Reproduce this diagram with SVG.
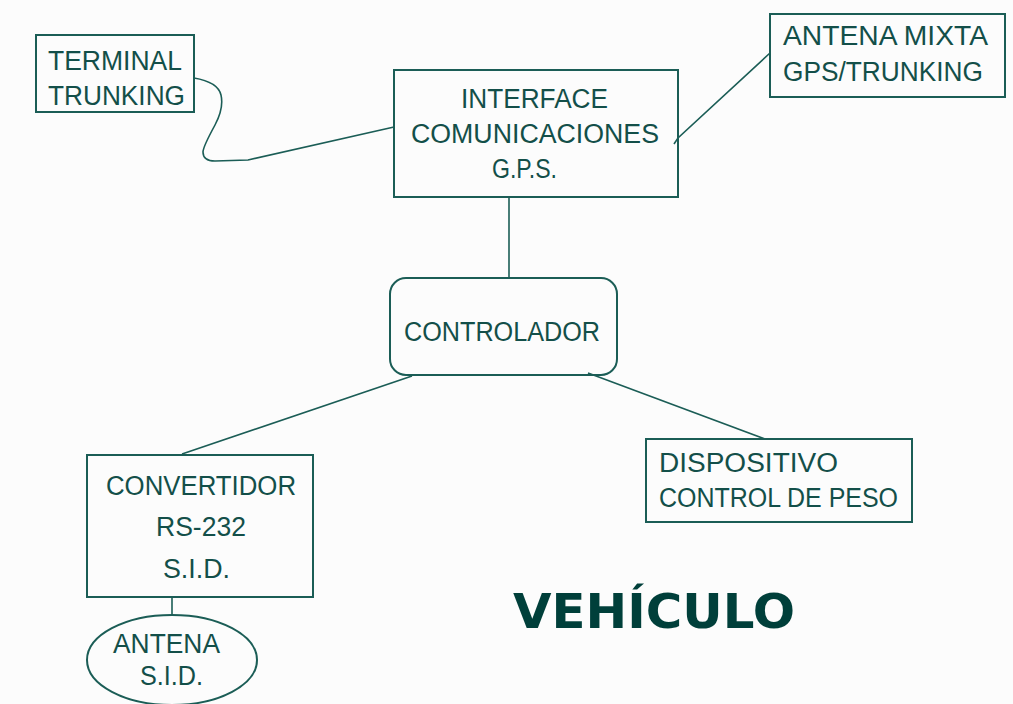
<svg xmlns="http://www.w3.org/2000/svg" width="1013" height="704" viewBox="0 0 1013 704">
<style>
.box{fill:none;stroke:#1b5d56;stroke-width:2}
.con{fill:none;stroke:#1b5d56;stroke-width:1.6}
.t{font-family:"Liberation Sans","DejaVu Sans",sans-serif;font-size:27px;fill:#134f49}
.big{font-family:"DejaVu Sans","Liberation Sans",sans-serif;font-weight:bold;font-size:48px;fill:#003f3a}
</style>
<rect x="0" y="0" width="1013" height="704" fill="#fcfcfc"/>
<g id="connectors">
<path class="con" d="M194,78 Q218,82 221,95 Q224,108 215,125 Q203,147 203,152 Q203,161 215,161 L248,160 L394,127"/>
<path class="con" d="M770,53 L678,138 L674,144"/>
<path class="con" d="M509,197 L509,278"/>
<path class="con" d="M412,376 L182,454"/>
<path class="con" d="M588,373 L765,439"/>
<path class="con" d="M172,597 L172,615"/>
</g>
<g id="terminal">
<rect class="box" x="36" y="35" width="158" height="77"/>
<text class="t" x="48" y="70" textLength="134" lengthAdjust="spacingAndGlyphs">TERMINAL</text>
<text class="t" x="48" y="105" textLength="137" lengthAdjust="spacingAndGlyphs">TRUNKING</text>
</g>
<g id="interface">
<rect class="box" x="394" y="70" width="284" height="127"/>
<text class="t" x="461" y="108" textLength="147" lengthAdjust="spacingAndGlyphs">INTERFACE</text>
<text class="t" x="411" y="143" textLength="248" lengthAdjust="spacingAndGlyphs">COMUNICACIONES</text>
<text class="t" x="492" y="178" textLength="65" lengthAdjust="spacingAndGlyphs">G.P.S.</text>
</g>
<g id="antena-mixta">
<rect class="box" x="770" y="14" width="235" height="83"/>
<text class="t" x="783" y="45" textLength="205" lengthAdjust="spacingAndGlyphs">ANTENA MIXTA</text>
<text class="t" x="783" y="81" textLength="200" lengthAdjust="spacingAndGlyphs">GPS/TRUNKING</text>
</g>
<g id="controlador">
<rect class="box" x="390" y="278" width="227" height="97" rx="16" ry="16"/>
<text class="t" x="404" y="341" textLength="196" lengthAdjust="spacingAndGlyphs">CONTROLADOR</text>
</g>
<g id="convertidor">
<rect class="box" x="87" y="455" width="226" height="142"/>
<text class="t" x="106" y="495" textLength="190" lengthAdjust="spacingAndGlyphs">CONVERTIDOR</text>
<text class="t" x="156" y="536" textLength="90" lengthAdjust="spacingAndGlyphs">RS-232</text>
<text class="t" x="163" y="578" textLength="67" lengthAdjust="spacingAndGlyphs">S.I.D.</text>
</g>
<g id="dispositivo">
<rect class="box" x="646" y="439" width="266" height="83"/>
<text class="t" x="659" y="472" textLength="179" lengthAdjust="spacingAndGlyphs">DISPOSITIVO</text>
<text class="t" x="659" y="507" textLength="239" lengthAdjust="spacingAndGlyphs">CONTROL DE PESO</text>
</g>
<g id="antena-sid">
<ellipse class="box" cx="172" cy="660" rx="85" ry="45"/>
<text class="t" x="113" y="653" textLength="107" lengthAdjust="spacingAndGlyphs">ANTENA</text>
<text class="t" x="140" y="685" textLength="63" lengthAdjust="spacingAndGlyphs">S.I.D.</text>
</g>
<text class="big" x="513" y="628" textLength="282" lengthAdjust="spacingAndGlyphs">VEHÍCULO</text>
</svg>
